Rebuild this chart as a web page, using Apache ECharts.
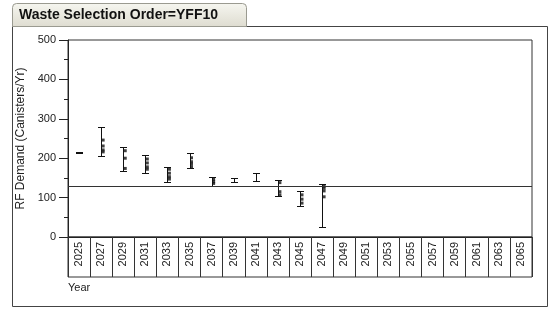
<!DOCTYPE html>
<html>
<head>
<meta charset="utf-8">
<script src="https://cdn.jsdelivr.net/npm/echarts@6/dist/echarts.min.js"></script>
<style>
  html, body { margin: 0; padding: 0; background: #fff; }
  #main { width: 550px; height: 312px; }
</style>
</head>
<body>
<div id="main"></div>
<script>
// categories (every 2nd year)
var years = ['2025','2027','2029','2031','2033','2035','2037','2039','2041','2043','2045',
             '2047','2049','2051','2053','2055','2057','2059','2061','2063','2065'];
// range bars: low / high per year (null = no data)
var barLow  = [213, 205, 168, 162, 140, 176, 129, 140, 143, 105,  79,  26];
var barHigh = [215, 280, 228, 208, 177, 214, 153, 149, 162, 145, 117, 134];
// individual points inside each range
var dots = [
  [],
  [246, 231, 221, 216],
  [219, 200, 174],
  [198, 188, 178, 172],
  [172, 162, 153, 147],
  [201, 191, 185, 178],
  [146, 140, 136],
  [],
  [],
  [138, 115, 107],
  [107, 96, 86],
  [129, 124, 117, 102]
];
var refLine = 128;
var yTicks = [0, 100, 200, 300, 400, 500];

var font = 'Liberation Sans, Arial, sans-serif';

var rangeData = [];
for (var i = 0; i < barLow.length; i++) {
  rangeData.push([i, barLow[i], barHigh[i]]);
}
var dotData = [];
for (var i = 0; i < dots.length; i++) {
  for (var j = 0; j < dots[i].length; j++) {
    dotData.push([i, dots[i][j]]);
  }
}

function renderRange(params, api) {
  var x = api.value(0);
  var lo = api.coord([x, api.value(1)]);
  var hi = api.coord([x, api.value(2)]);
  var cx = Math.round(lo[0]) + 0.5;
  var ylo = Math.round(lo[1]) + 0.5;
  var yhi = Math.round(hi[1]) + 0.5;
  var cap = 3.5;
  var st = { stroke: '#111', lineWidth: 1 };
  return {
    type: 'group',
    children: [
      { type: 'line', shape: { x1: cx, y1: ylo, x2: cx, y2: yhi }, style: st },
      { type: 'line', shape: { x1: cx - cap, y1: ylo, x2: cx + cap, y2: ylo }, style: st },
      { type: 'line', shape: { x1: cx - cap, y1: yhi, x2: cx + cap, y2: yhi }, style: st }
    ]
  };
}

var chart = echarts.init(document.getElementById('main'));
chart.setOption({
  animation: false,
  backgroundColor: '#fff',
  textStyle: { fontFamily: font },
  graphic: [
    { type: 'rect', z: 100, shape: { x: 12.5, y: 3.5, width: 234, height: 23, r: [4, 4, 0, 0] },
      style: { fill: new echarts.graphic.LinearGradient(0, 0, 0, 1, [
        { offset: 0, color: '#f6f6f0' }, { offset: 1, color: '#dedcd0' }]), stroke: '#9a9a90', lineWidth: 1 } },
    { type: 'text', z: 101, x: 19, y: 15,
      style: { text: 'Waste Selection Order=YFF10', font: 'bold 14px ' + font, fill: '#111', verticalAlign: 'middle' } },
    { type: 'rect', z: -1, shape: { x: 12.5, y: 26.5, width: 535, height: 280 },
      style: { fill: 'none', stroke: '#444', lineWidth: 1 } },
    { type: 'text', x: 68, y: 288,
      style: { text: 'Year', font: '11px ' + font, fill: '#222', verticalAlign: 'middle' } }
  ],
  grid: [
    { left: 68, top: 40, width: 464, height: 197, show: true, borderColor: '#333', borderWidth: 1, backgroundColor: 'transparent' },
    { left: 68, top: 237, width: 464, height: 40, show: true, borderColor: '#333', borderWidth: 1, backgroundColor: 'transparent' }
  ],
  xAxis: [
    {
      type: 'category', gridIndex: 0, data: years, boundaryGap: true,
      axisLine: { show: true, lineStyle: { color: '#222' } },
      axisTick: { show: true, interval: 0, length: 40, lineStyle: { color: '#333' } },
      axisLabel: { interval: 0, rotate: 90, margin: 5, fontSize: 11, color: '#222' },
      splitLine: { show: false }
    },
    { type: 'category', gridIndex: 1, data: years, show: false }
  ],
  yAxis: [
    {
      type: 'value', gridIndex: 0, min: 0, max: 500, interval: 100,
      name: 'RF Demand (Canisters/Yr)', nameLocation: 'middle', nameGap: 35,
      nameTextStyle: { fontSize: 12, color: '#222' },
      axisLine: { show: true, lineStyle: { color: '#222' } },
      axisTick: { show: true, length: 9, lineStyle: { color: '#222' } },
      minorTick: { show: true, splitNumber: 2, length: 4, lineStyle: { color: '#222' } },
      axisLabel: { fontSize: 11, color: '#222', margin: 12,
        formatter: function (v) { return yTicks.indexOf(v) >= 0 ? String(v) : ''; } },
      splitLine: { show: false }
    },
    { type: 'value', gridIndex: 1, show: false }
  ],
  series: [
    {
      type: 'custom', xAxisIndex: 0, yAxisIndex: 0,
      renderItem: renderRange, data: rangeData,
      encode: { x: 0, y: [1, 2] },
      markLine: {
        silent: true, symbol: 'none', label: { show: false },
        lineStyle: { color: '#333', type: 'solid', width: 1 },
        data: [{ yAxis: refLine }]
      }
    },
    {
      type: 'scatter', xAxisIndex: 0, yAxisIndex: 0,
      symbol: 'rect', symbolSize: 3, symbolOffset: [2, 0],
      itemStyle: { color: '#111' },
      data: dotData
    }
  ]
});
</script>
</body>
</html>
